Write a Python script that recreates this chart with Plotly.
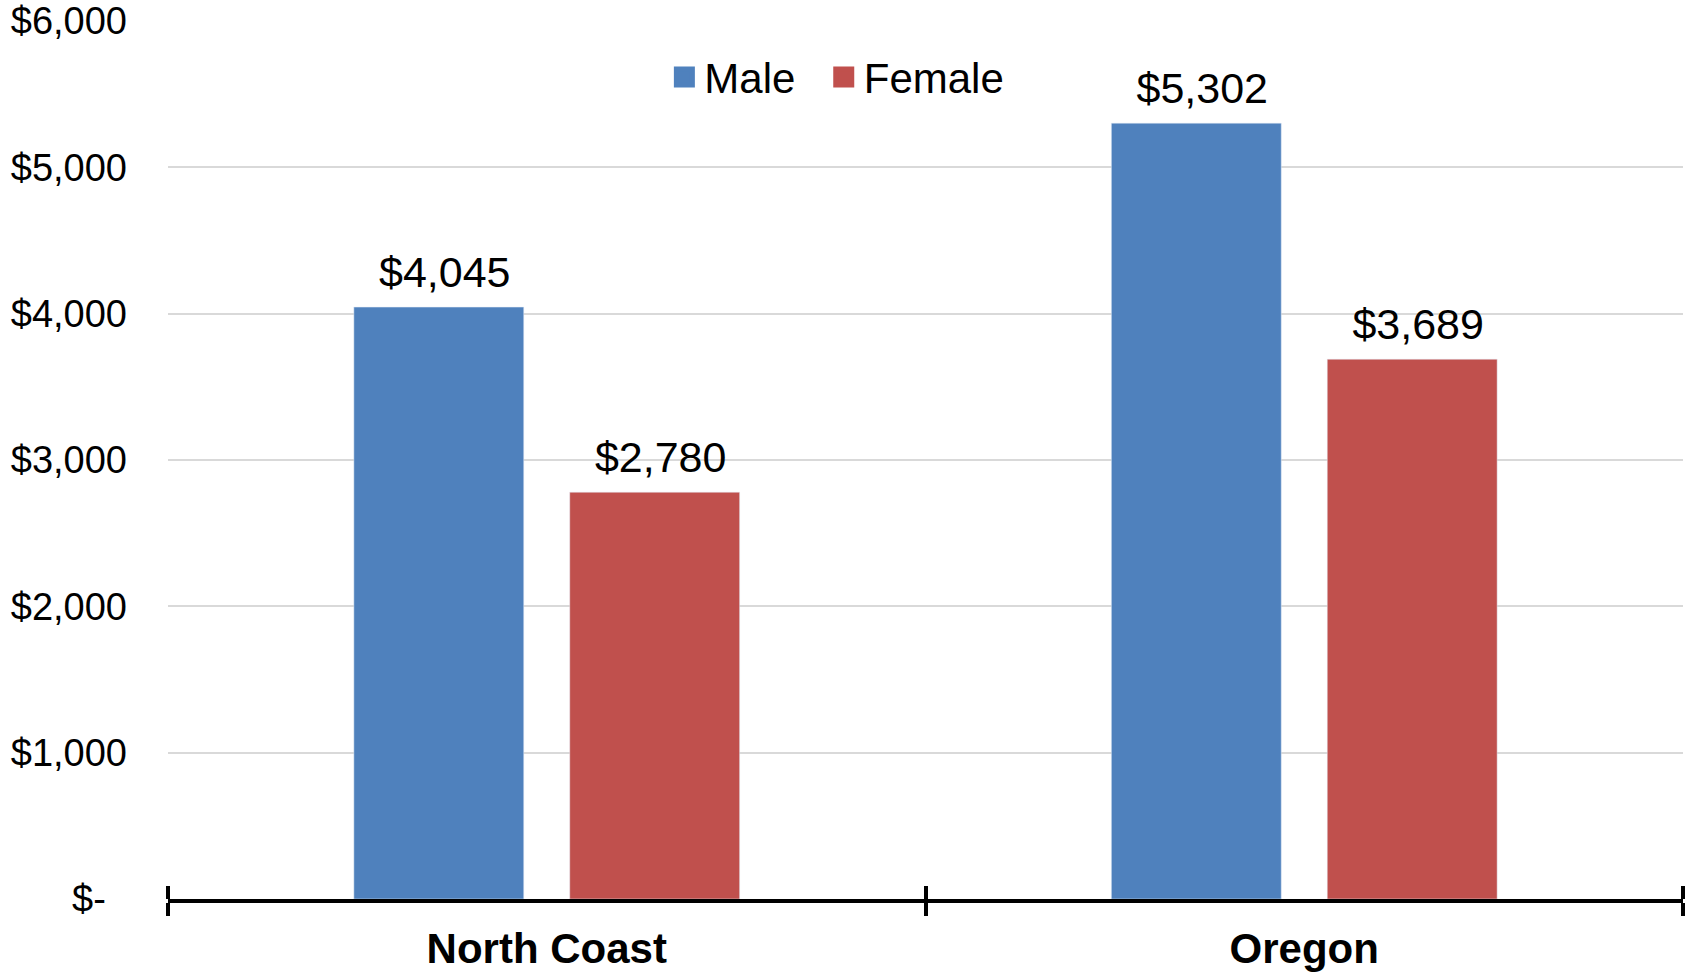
"""
Durchschnittswerte nach Geschlecht: North Coast vs. Oregon.
"""

import plotly.graph_objects as go

REGIONEN = ["North Coast", "Oregon"]
MAENNLICH = [4045, 5302]
WEIBLICH = [2780, 3689]
Y_TICKS = [0, 1000, 2000, 3000, 4000, 5000, 6000]
Y_TICKTEXT = ["$-\u00a0\u00a0", "$1,000", "$2,000", "$3,000", "$4,000", "$5,000", "$6,000"]

BLAU = "#4F81BD"
ROT = "#C0504D"
SCHRIFT = "Arial, Liberation Sans, sans-serif"
LUECKE = 0.43


def balken(name, werte, farbe):
    return go.Bar(
        name=name, x=REGIONEN, y=werte, marker={"color": farbe},
        offsetgroup=name, showlegend=False, hoverinfo="skip",
    )


def beschriftung(name, werte):
    # Werte als Text-Scatter, im selben Raster wie die Balken gruppiert;
    # unsichtbare Marker sorgen fuer den Abstand zum Balken
    return go.Scatter(
        name=name, x=REGIONEN, y=werte, mode="markers+text", offsetgroup=name,
        text=[f"\u00a0${v:,}" for v in werte], textposition="top center",
        textfont={"size": 43, "color": "black", "family": SCHRIFT},
        marker={"size": 13, "color": "rgba(0,0,0,0)"},
        cliponaxis=False, showlegend=False, hoverinfo="skip",
    )


def legenden_eintrag(name, farbe):
    # eigener Legenden-Eintrag, damit das Quadrat groesser wird
    return go.Scatter(
        name=name, x=[None], y=[None], mode="markers", xaxis="x2",
        marker={"symbol": "square", "size": 16, "color": farbe,
                "line": {"color": farbe, "width": 5}},
    )


fig = go.Figure([
    balken("Male", MAENNLICH, BLAU),
    balken("Female", WEIBLICH, ROT),
    beschriftung("Male", MAENNLICH),
    beschriftung("Female", WEIBLICH),
    legenden_eintrag("Male\u00a0\u00a0", BLAU),
    legenden_eintrag("Female", ROT),
])

fig.update_layout(
    width=1686, height=973, autosize=False,
    margin=dict(l=168, r=3, t=21, b=74, autoexpand=False),
    plot_bgcolor="white", paper_bgcolor="white",
    font={"family": SCHRIFT, "color": "black"},
    barmode="group", bargap=LUECKE, bargroupgap=0.213,
    scattermode="group", scattergap=LUECKE,
    legend=dict(
        orientation="h", x=0.4415, xanchor="center", y=0.936, yanchor="middle",
        font={"size": 42}, itemsizing="trace", bgcolor="rgba(0,0,0,0)",
    ),
    yaxis=dict(
        range=[0, 6000], tickvals=Y_TICKS, ticktext=Y_TICKTEXT, automargin=False,
        tickfont={"size": 38}, showgrid=True, gridcolor="#D9D9D9", gridwidth=2,
        zeroline=False, showline=False, ticks="", ticklabelstandoff=40,
    ),
    xaxis=dict(
        type="category", automargin=False,
        tickfont={"size": 42, "family": SCHRIFT, "weight": "bold"},
        showline=True, linecolor="black", linewidth=4, ticklabelstandoff=10,
        ticks="outside", tickson="boundaries", ticklen=13, tickwidth=4, tickcolor="black",
        showgrid=False, zeroline=False,
    ),
    # zweite Achse nur fuer den nach oben zeigenden Teil der Teilstriche
    xaxis2=dict(
        overlaying="x", anchor="free", position=0, side="top",
        range=[-0.5, 1.5], automargin=False,
        tickvals=[-0.5, 0.5, 1.5], ticks="outside", ticklen=13, tickwidth=4,
        tickcolor="black", showticklabels=False, showgrid=False,
        zeroline=False, showline=False,
    ),
)

# Seite ohne Body-Rand, damit die Figur genau ins Fenster passt
fig.write_html(
    "out.html",
    config={"displayModeBar": False},
    post_script="document.body.style.margin='0';document.body.style.overflow='hidden';",
)
